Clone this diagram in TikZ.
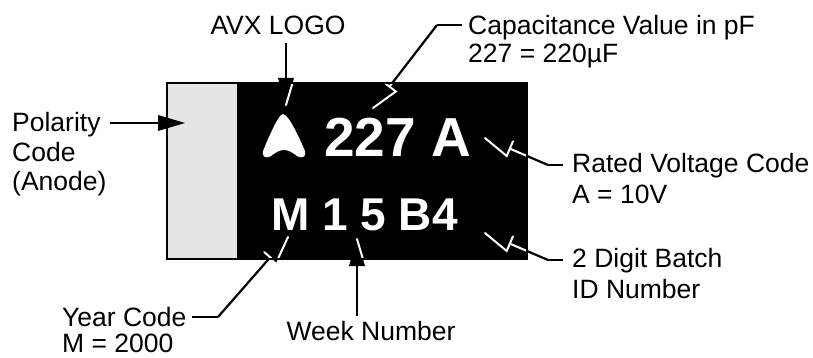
\documentclass[tikz,border=0pt]{standalone}
\usepackage{fontspec}
\setmainfont{Liberation Sans}
\usetikzlibrary{calc}
\definecolor{anodegray}{RGB}{229,229,229}
\tikzset{
  lbl/.style={inner sep=0pt, font=\fontsize{26.5}{30}\selectfont, text=black},
  lead/.style={line width=2.2pt, black},
  whitelead/.style={line width=2pt, white, line cap=round},
  bigmark/.style={inner sep=0pt, text=white, font=\bfseries\fontsize{55}{60}\selectfont},
  midmark/.style={inner sep=0pt, text=white, font=\bfseries\fontsize{46}{50}\selectfont},
}
% #1 tip, #2 next point of leader, #3 side (90 or -90)
\newcommand{\leaderhead}[3]{%
  \coordinate (#1b) at ($(#1)!27pt!(#2)$);
  \coordinate (#1c) at ($(#1b)!8pt!#3:(#2)$);
  \coordinate (#1d) at ($(#1b)!8pt!-#3:(#2)$);
  \draw[lead] (#1b) -- (#2);
  \fill[black] (#1) -- (#1c) -- (#1d) -- cycle;
}
\newcommand{\leaderwhite}[3]{%
  \draw[whitelead] (#1) -- (#1c) -- (#1d);
  \draw[whitelead] (#1b) -- (#2);
}
\begin{document}
\begin{tikzpicture}[x=1pt,y=-1pt]
\useasboundingbox (0,0) rectangle (813,358);
% component body
\fill[black] (237,83) rectangle (527,259);
\fill[anodegray] (167,83) rectangle (237,259);
\coordinate (bodyNW) at (237,83);
\coordinate (bodySE) at (527,259);
% logo
\fill[white] (283,114) .. controls (278,114) and (266,144) .. (263,151)
  .. controls (261,157) and (267,159) .. (271,156)
  .. controls (276,152) and (280,150) .. (284,150)
  .. controls (288,150) and (292,152) .. (297,156)
  .. controls (301,159) and (307,157) .. (305,151)
  .. controls (302,144) and (289,114) .. (283,114) -- cycle;
\node[bigmark, anchor=base west] (topmark) at (324,157) {227 A};
\node[midmark, anchor=base west] (botmark) at (271,230) {M 1 5 B4};
% labels
\node[lbl, anchor=base] (avx) at (278,35) {AVX LOGO};
\node[lbl, anchor=base west] (capa) at (468,35) {Capacitance Value in pF};
\node[lbl, anchor=base west] (capb) at (468,63) {227 = 220µF};
\node[lbl, anchor=base west] (rata) at (572,172) {Rated Voltage Code};
\node[lbl, anchor=base west] (ratb) at (572,203) {A = 10V};
\node[lbl, anchor=base west] (bata) at (572,267) {2 Digit Batch};
\node[lbl, anchor=base west] (batb) at (572,298) {ID Number};
\node[lbl, anchor=base west] (pola) at (12,132) {Polarity};
\node[lbl, anchor=base west] (polb) at (12,161) {Code};
\node[lbl, anchor=base west] (polc) at (12,190) {(Anode)};
\node[lbl, anchor=base west] (yeara) at (62,326) {Year Code};
\node[lbl, anchor=base west] (yearb) at (62,352) {M = 2000};
\node[lbl, anchor=base] (week) at (371,340) {Week Number};
% leader coordinates
\coordinate (avxS) at (286,43);
\coordinate (avxT) at (286,105);
\coordinate (capE) at (462,25);
\coordinate (capS) at (437,25);
\coordinate (capT) at (373,108);
\coordinate (ratE) at (563,165);
\coordinate (ratS) at (548,165);
\coordinate (ratT) at (485,138);
\coordinate (batE) at (563,260);
\coordinate (batS) at (548,260);
\coordinate (batT) at (485,233);
\coordinate (polS) at (110,123);
\coordinate (polT) at (185,123);
\coordinate (yearE) at (192,317);
\coordinate (yearS) at (218,317);
\coordinate (yearT) at (288,237);
\coordinate (weekS) at (357,316);
\coordinate (weekT) at (357,239);
% leader lines
\draw[lead] (capE) -- (capS);
\draw[lead] (ratE) -- (ratS);
\draw[lead] (batE) -- (batS);
\draw[lead] (yearE) -- (yearS);
\leaderhead{avxT}{avxS}{-90}
\leaderhead{capT}{capS}{-90}
\leaderhead{ratT}{ratS}{-90}
\leaderhead{batT}{batS}{-90}
\leaderhead{polT}{polS}{90}
\leaderhead{yearT}{yearS}{90}
\leaderhead{weekT}{weekS}{90}
% white parts inside the black body
\begin{scope}
  \clip (bodyNW) rectangle (bodySE);
  \leaderwhite{avxT}{avxS}{-90}
  \leaderwhite{capT}{capS}{-90}
  \leaderwhite{ratT}{ratS}{-90}
  \leaderwhite{batT}{batS}{-90}
  \leaderwhite{yearT}{yearS}{90}
  \leaderwhite{weekT}{weekS}{90}
\end{scope}
\draw[line width=2.2pt] (167,83) rectangle (527,259);
\end{tikzpicture}
\end{document}
